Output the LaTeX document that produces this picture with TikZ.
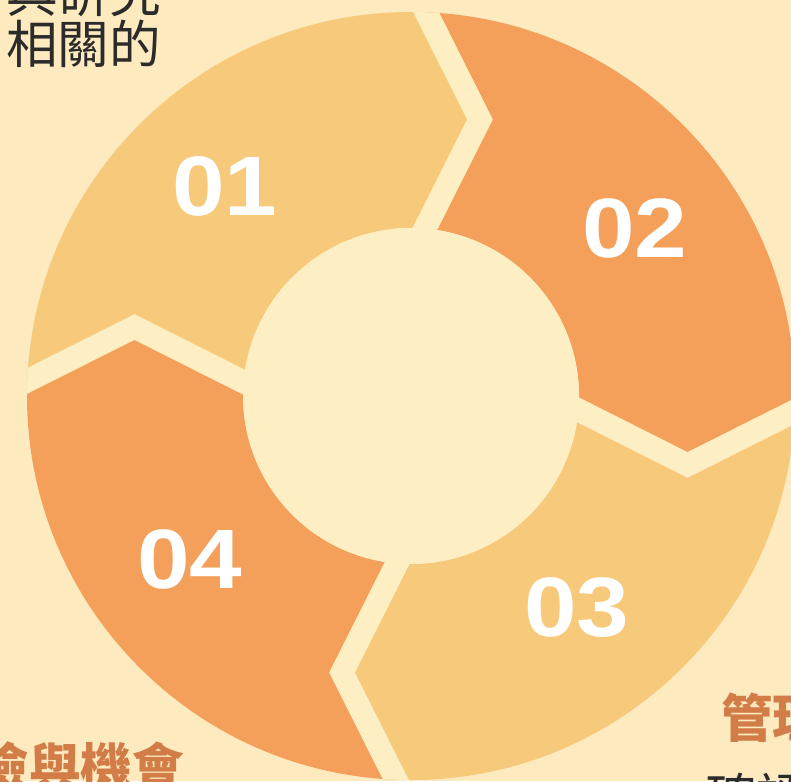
\documentclass[tikz,border=0pt]{standalone}
\usepackage{fontspec}
\newfontfamily\cjk{Noto Sans CJK TC}
\newfontfamily\numfont{Liberation Sans}[FakeStretch=1.12]
\definecolor{bgcream}{HTML}{FDEABF}
\definecolor{gapcream}{HTML}{FDEEC4}
\definecolor{lightseg}{HTML}{F7C97B}
\definecolor{darkseg}{HTML}{F4A05A}
\definecolor{titlebrown}{HTML}{D27C47}
\definecolor{bodyink}{HTML}{2B2B2B}

\begin{document}
\begin{tikzpicture}[x=0.03cm, y=0.03cm,
    number/.style={text=white, font=\numfont\bfseries\fontsize{72}{72}\selectfont, inner sep=0pt},
    heading/.style={text=titlebrown, font=\cjk\bfseries\fontsize{44}{44}\selectfont, inner sep=0pt},
    body/.style={text=bodyink, font=\cjk\fontsize{44}{44}\selectfont, inner sep=0pt}]
    \useasboundingbox (0,0) rectangle (791,781);
    \clip (0,0) rectangle (791,781);
    \fill[bgcream] (0,0) rectangle (791,781);
    \begin{scope}[shift={(411,385)}]
        \foreach \a/\col in {178/lightseg, 88/darkseg, -2/lightseg, -92/darkseg}
            \fill[\col] (\a:168) -- (\a-12:285) -- (\a+1:384)
                arc[start angle=\a+1, end angle=\a-89, radius=384]
                -- (\a-102:285) -- (\a-90:168)
                arc[start angle=\a-90, end angle=\a, radius=168] -- cycle;
        \begin{scope}
            \clip (0,0) circle[radius=384];
            \foreach \a in {178,88,-2,-92}
                \draw[gapcream, line width=0.69cm] (\a:150) -- (\a-12:285) -- (\a+1:400);
        \end{scope}
        \fill[gapcream] (0,0) circle[radius=168];
    \end{scope}
    \node[number] (n01) at (225,595) {01};
    \node[number] (n02) at (635,553) {02};
    \node[number] (n03) at (577,173) {03};
    \node[number] (n04) at (190,222) {04};
    \node[body, anchor=west] (topline) at (6,788) {與研究};
    \node[body, anchor=west] (related) at (6,737) {相關的};
    \node[heading, anchor=east] (risk) at (184,14) {風險與機會};
    \node[heading, anchor=west] (manage) at (721,63) {管理};
    \node[body, anchor=west] (confirm) at (705,-16) {確認};
\end{tikzpicture}
\end{document}
